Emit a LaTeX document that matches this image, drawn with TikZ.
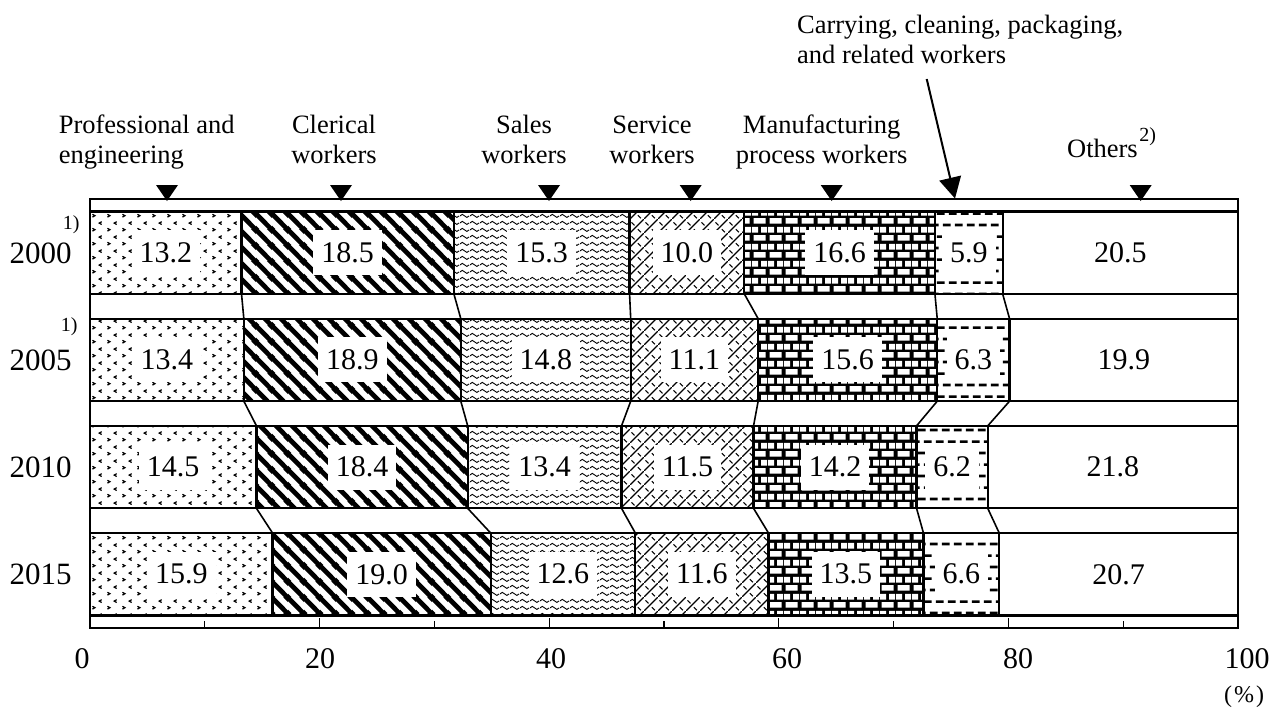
\documentclass[tikz,border=0pt]{standalone}
\usepackage{fontspec}
\setmainfont{Liberation Serif}
\usetikzlibrary{patterns,arrows.meta}

% ---------- fill patterns ----------
\pgfdeclarepatternformonly{profdots}{\pgfqpoint{0pt}{0pt}}{\pgfqpoint{7.5pt}{7pt}}{\pgfqpoint{7.5pt}{7pt}}{%
  \pgfsetlinewidth{0.65pt}%
  \pgfpathmoveto{\pgfqpoint{1.3pt}{1.0pt}}\pgfpathlineto{\pgfqpoint{2.6pt}{1.75pt}}\pgfpathlineto{\pgfqpoint{1.3pt}{2.5pt}}%
  \pgfpathmoveto{\pgfqpoint{6.2pt}{4.5pt}}\pgfpathlineto{\pgfqpoint{4.9pt}{5.25pt}}\pgfpathlineto{\pgfqpoint{6.2pt}{6.0pt}}%
  \pgfusepath{stroke}}
\pgfdeclarepatternformonly{clerstripes}{\pgfqpoint{0pt}{0pt}}{\pgfqpoint{8pt}{8pt}}{\pgfqpoint{8pt}{8pt}}{%
  \pgfsetlinewidth{2.5pt}%
  \pgfpathmoveto{\pgfqpoint{-1pt}{9pt}}\pgfpathlineto{\pgfqpoint{9pt}{-1pt}}%
  \pgfpathmoveto{\pgfqpoint{-5pt}{5pt}}\pgfpathlineto{\pgfqpoint{5pt}{-5pt}}%
  \pgfpathmoveto{\pgfqpoint{3pt}{13pt}}\pgfpathlineto{\pgfqpoint{13pt}{3pt}}%
  \pgfusepath{stroke}}
\pgfdeclarepatternformonly{saleswave}{\pgfqpoint{0pt}{0pt}}{\pgfqpoint{5pt}{3.5pt}}{\pgfqpoint{5pt}{3.5pt}}{%
  \pgfsetlinewidth{0.5pt}%
  \pgfpathmoveto{\pgfqpoint{0pt}{1.75pt}}%
  \pgfpathcurveto{\pgfqpoint{0.8pt}{2.9pt}}{\pgfqpoint{1.7pt}{2.9pt}}{\pgfqpoint{2.5pt}{1.75pt}}%
  \pgfpathcurveto{\pgfqpoint{3.3pt}{0.6pt}}{\pgfqpoint{4.2pt}{0.6pt}}{\pgfqpoint{5pt}{1.75pt}}%
  \pgfusepath{stroke}}
\pgfdeclarepatternformonly{servhatch}{\pgfqpoint{0pt}{0pt}}{\pgfqpoint{7pt}{7pt}}{\pgfqpoint{7pt}{7pt}}{%
  \pgfsetlinewidth{0.6pt}%
  \pgfpathmoveto{\pgfqpoint{-1pt}{-1pt}}\pgfpathlineto{\pgfqpoint{8pt}{8pt}}%
  \pgfpathmoveto{\pgfqpoint{4.2pt}{2.0pt}}\pgfpathlineto{\pgfqpoint{5.8pt}{0.4pt}}%
  \pgfpathmoveto{\pgfqpoint{0.8pt}{5.6pt}}\pgfpathlineto{\pgfqpoint{2.4pt}{4.0pt}}%
  \pgfusepath{stroke}}
\pgfdeclarepatternformonly{brick}{\pgfqpoint{0pt}{0pt}}{\pgfqpoint{8pt}{8.3pt}}{\pgfqpoint{8pt}{8.3pt}}{%
  \pgfpathrectangle{\pgfqpoint{0.8pt}{0.65pt}}{\pgfqpoint{6.4pt}{2.85pt}}%
  \pgfpathrectangle{\pgfqpoint{4.8pt}{4.8pt}}{\pgfqpoint{3.2pt}{2.85pt}}%
  \pgfpathrectangle{\pgfqpoint{0pt}{4.8pt}}{\pgfqpoint{3.2pt}{2.85pt}}%
  \pgfusepath{fill}}
\pgfdeclarepatternformonly{cargdash}{\pgfqpoint{0pt}{0pt}}{\pgfqpoint{6.2pt}{11.4pt}}{\pgfqpoint{6.2pt}{11.4pt}}{%
  \pgfsetlinewidth{1.3pt}%
  \pgfpathmoveto{\pgfqpoint{0.5pt}{2pt}}\pgfpathlineto{\pgfqpoint{4.5pt}{2pt}}%
  \pgfpathmoveto{\pgfqpoint{3.6pt}{7.7pt}}\pgfpathlineto{\pgfqpoint{6.2pt}{7.7pt}}%
  \pgfpathmoveto{\pgfqpoint{0pt}{7.7pt}}\pgfpathlineto{\pgfqpoint{1.4pt}{7.7pt}}%
  \pgfusepath{stroke}}

\newcommand\catfont{\fontsize{13.25}{15}\selectfont}
\newcommand\valfont{\fontsize{15}{18}\selectfont}
\newcommand\yearfont{\fontsize{15.5}{18}\selectfont}
\newcommand\notefont{\fontsize{10}{12}\selectfont}
\newcommand\pctfont{\fontsize{12}{14}\selectfont}

\begin{document}
\begin{tikzpicture}[x=0.5pt,y=-0.5pt,
  s1/.style={pattern=profdots},
  s2/.style={pattern=clerstripes},
  s3/.style={pattern=saleswave},
  s4/.style={pattern=servhatch},
  s5/.style={fill=black,postaction={pattern=brick,pattern color=white}},
  s6/.style={pattern=cargdash},
  s7/.style={fill=white},
  segline/.style={draw=black,line width=1.1pt},
  conn/.style={draw=black,line width=0.8pt},
  frame/.style={draw=black,line width=1.1pt},
  tick/.style={draw=black,line width=0.6pt},
  val/.style={fill=white,inner xsep=4pt,inner ysep=0pt,minimum height=22.5pt,font=\valfont},
  cat/.style={inner sep=0pt,font=\catfont},
  year/.style={inner sep=0pt,font=\yearfont},
  note/.style={inner sep=0pt,font=\notefont},
  axlab/.style={inner sep=0pt,font=\valfont},
  marker/.style={fill=black}]
\fill[white] (0,0) rectangle (1272,708);
\useasboundingbox (0,0) rectangle (1272,708);

% ---------- bars ----------
\foreach \r/\k/\a/\b/\v in {
  1/1/0/13.2/13.2, 1/2/13.2/31.7/18.5, 1/3/31.7/47.0/15.3, 1/4/47.0/57.0/10.0, 1/5/57.0/73.6/16.6, 1/6/73.6/79.5/5.9, 1/7/79.5/100/20.5,
  2/1/0/13.4/13.4, 2/2/13.4/32.3/18.9, 2/3/32.3/47.1/14.8, 2/4/47.1/58.2/11.1, 2/5/58.2/73.8/15.6, 2/6/73.8/80.1/6.3, 2/7/80.1/100/19.9,
  3/1/0/14.5/14.5, 3/2/14.5/32.9/18.4, 3/3/32.9/46.3/13.4, 3/4/46.3/57.8/11.5, 3/5/57.8/72.0/14.2, 3/6/72.0/78.2/6.2, 3/7/78.2/100/21.8,
  4/1/0/15.9/15.9, 4/2/15.9/34.9/19.0, 4/3/34.9/47.5/12.6, 4/4/47.5/59.1/11.6, 4/5/59.1/72.6/13.5, 4/6/72.6/79.2/6.6, 4/7/79.2/100/20.7}{
  \pgfmathsetmacro\yt{211.5+107.17*(\r-1)}
  \pgfmathsetmacro\yb{\yt+82.5}
  \pgfmathsetmacro\xa{90+11.48*\a}
  \pgfmathsetmacro\xb{90+11.48*\b}
  \path[s\k] (\xa,\yt) rectangle (\xb,\yb);
  \draw[segline] (\xa,\yt) rectangle (\xb,\yb);
  \node[val] (v\r-\k) at ({(\xa+\xb)/2},{(\yt+\yb)/2}) {\v};
  \coordinate (t\r-\k) at (\xb,\yt);
  \coordinate (u\r-\k) at (\xb,\yb);
}

% ---------- connectors between bars ----------
\foreach \r in {1,2,3}{
  \pgfmathtruncatemacro\rn{\r+1}
  \foreach \k in {1,...,6}{
    \draw[conn] (u\r-\k) -- (t\rn-\k);
  }
}

% ---------- frame and axis ----------
\draw[frame] (90,199) rectangle (1238,628);
\draw[frame] (90,616) -- (1238,616);
\foreach \p in {10,30,50,70,90}{
  \draw[tick] ({90+11.48*\p},628) -- ++(0,-7);
}
\foreach \p in {20,40,60,80}{
  \draw[tick] ({90+11.48*\p},628) -- ++(0,-10);
}

% ---------- category markers ----------
\foreach \mx in {167,341,549,690.7,831.7,1140.7}{
  \fill[marker] (\mx-11,185) -- (\mx+11,185) -- (\mx,201) -- cycle;
}

% ---------- category labels ----------
\node[cat,anchor=base west] (prof1) at (58.4,133.5) {Professional and};
\node[cat,anchor=base west] (prof2) at (58.4,163.5) {engineering};
\node[cat,anchor=base] (cler1) at (334,133.5) {Clerical};
\node[cat,anchor=base] (cler2) at (334,163.5) {workers};
\node[cat,anchor=base] (sales1) at (524,133.5) {Sales};
\node[cat,anchor=base] (sales2) at (524,163.5) {workers};
\node[cat,anchor=base] (serv1) at (652,133.5) {Service};
\node[cat,anchor=base] (serv2) at (652,163.5) {workers};
\node[cat,anchor=base] (manu1) at (821.7,133.5) {Manufacturing};
\node[cat,anchor=base] (manu2) at (821.7,163.5) {process workers};
\node[cat,anchor=base west] (carr1) at (796.7,33) {Carrying, cleaning, packaging,};
\node[cat,anchor=base west] (carr2) at (796.7,63) {and related workers};
\node[cat,anchor=base west] (oth1) at (1066.7,157) {Others};
\node[note,anchor=base west] (oth2) at (1139,141) {2)};

\coordinate (arrtail) at (926.7,79);
\coordinate (arrtip) at (955,198.5);
\draw[line width=1pt,-{Triangle[length=10.5pt,width=11pt]}] (arrtail) -- (arrtip);

% ---------- year labels ----------
\node[year,anchor=base east] (y2000) at (72,263) {2000};
\node[year,anchor=base east] (y2005) at (72,370) {2005};
\node[year,anchor=base east] (y2010) at (72,477) {2010};
\node[year,anchor=base east] (y2015) at (72,584.5) {2015};
\node[note,anchor=base east] (n2000) at (80,229) {1)};
\node[note,anchor=base east] (n2005) at (78,331) {1)};

% ---------- axis labels ----------
\node[axlab,anchor=base] (a0) at (82,668) {0};
\node[axlab,anchor=base] (a20) at (320,668) {20};
\node[axlab,anchor=base] (a40) at (551,668) {40};
\node[axlab,anchor=base] (a60) at (787,668) {60};
\node[axlab,anchor=base] (a80) at (1018,668) {80};
\node[axlab,anchor=base] (a100) at (1247,668) {100};
\node[inner sep=0pt,font=\pctfont,anchor=base] (pct) at (1244,702) {(\kern1pt\%\kern1pt)};
\end{tikzpicture}
\end{document}
